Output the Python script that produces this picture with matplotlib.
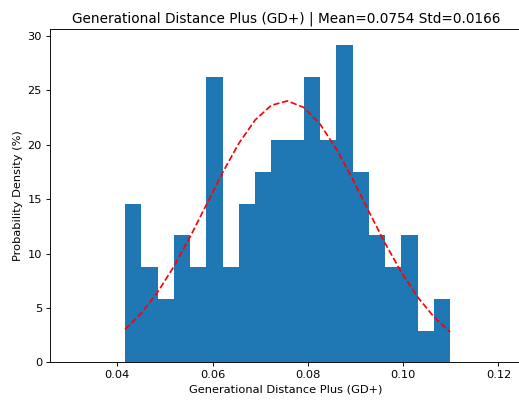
import matplotlib
matplotlib.use("Agg")
import matplotlib.pyplot as plt
import numpy as np

# density per bin (%)
density = [14.59, 8.75, 5.84, 11.67, 8.75, 26.26, 8.75, 14.59, 17.51, 20.43,
           20.43, 26.26, 20.43, 29.18, 17.51, 11.67, 8.75, 11.67, 2.92, 5.84]
x_min = 0.04162
x_max = 0.10986
mean = 0.0754
std = 0.0166

# the original was drawn at a smaller scale, so shrink fonts and lines
s = 0.82
plt.rcParams['font.size'] = 10 * s
plt.rcParams['axes.linewidth'] = 0.8 * s
plt.rcParams['xtick.major.width'] = 0.8 * s
plt.rcParams['ytick.major.width'] = 0.8 * s
plt.rcParams['xtick.major.size'] = 3.5 * s
plt.rcParams['ytick.major.size'] = 3.5 * s
plt.rcParams['xtick.major.pad'] = 3.5 * s
plt.rcParams['ytick.major.pad'] = 3.5 * s

edges = np.linspace(x_min, x_max, len(density) + 1)
widths = np.diff(edges)

fig = plt.figure(figsize=(5.19, 4.03), dpi=100)
# the reference is cropped on the right, so the axes run past the edge
ax = fig.add_axes([0.0963, 0.101, 0.954, 0.827])

ax.bar(edges[:-1], density, width=widths, align='edge', color='#1f77b4')

pdf = np.exp(-0.5 * ((edges - mean) / std) ** 2) / (std * np.sqrt(2 * np.pi))
ax.plot(edges, pdf, 'r--', linewidth=1.5 * s)

ax.set_xlim(0.02587, 0.12981)
ax.set_ylim(0, 30.64)
ax.set_xticks([0.04, 0.06, 0.08, 0.10, 0.12])
ax.set_yticks([0, 5, 10, 15, 20, 25, 30])
ax.set_title('Generational Distance Plus (GD+) | Mean=%.4f Std=%.4f' % (mean, std),
             fontsize=12 * s, pad=6 * s, x=0.477)
ax.set_xlabel('Generational Distance Plus (GD+)', labelpad=4 * s, x=0.477)
ax.set_ylabel('Probability Density (%)', labelpad=4 * s)

fig.savefig('out.png', dpi=100)
